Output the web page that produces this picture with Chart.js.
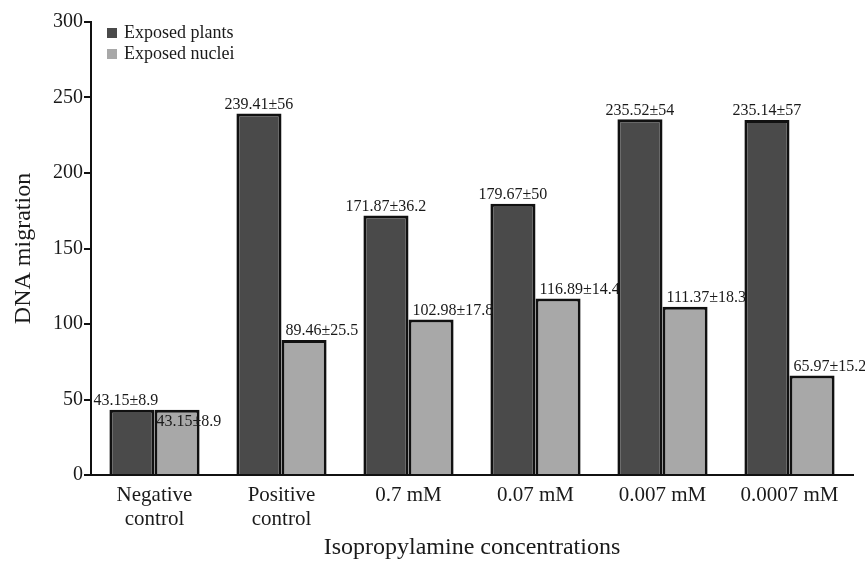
<!DOCTYPE html>
<html>
<head>
<meta charset="utf-8">
<script src="https://cdn.jsdelivr.net/npm/chart.js@4.4.1/dist/chart.umd.min.js"></script>
<style>
  html, body { margin: 0; padding: 0; background: #fff; }
  #wrap { width: 865px; height: 569px; }
</style>
</head>
<body>
<div id="wrap"><canvas id="dnaChart" width="865" height="569"></canvas></div>
<script>
// data
const categories = [['Negative', 'control'], ['Positive', 'control'], '0.7 mM', '0.07 mM', '0.007 mM', '0.0007 mM'];
const plantsValues = [43.15, 239.41, 171.87, 179.67, 235.52, 235.14];
const plantsErrors = ['8.9', '56', '36.2', '50', '54', '57'];
const nucleiValues = [43.15, 89.46, 102.98, 116.89, 111.37, 65.97];
const nucleiErrors = ['8.9', '25.5', '17.8', '14.4', '18.3', '15.2'];
const yTicks = [0, 50, 100, 150, 200, 250, 300];

const serif = "'Liberation Serif', 'DejaVu Serif', serif";
const textColor = '#1a1a1a';
const darkGray = '#4a4a4a';
const lightGray = '#a8a8a8';

//Draw the value±error labels over the bars
const barLabels = {
    id: 'barLabels',
    afterDatasetsDraw(chart) {
        const ctx = chart.ctx;
        ctx.save();
        ctx.font = '16px ' + serif;
        ctx.fillStyle = textColor;
        chart.data.datasets.forEach((ds, di) => {
            const meta = chart.getDatasetMeta(di);
            meta.data.forEach((bar, i) => {
                const txt = ds.data[i] + '±' + ds.errors[i];
                if (di === 0) {
                    ctx.textAlign = 'center';
                    ctx.textBaseline = 'bottom';
                    ctx.fillText(txt, bar.x - (i === 0 ? 6 : 0), bar.y - 1);
                } else if (i === 0) {
                    // first one sits inside the bar in the original
                    ctx.textAlign = 'left';
                    ctx.textBaseline = 'middle';
                    ctx.fillText(txt, bar.x - bar.width / 2 + 2, bar.y + 12);
                } else {
                    ctx.textAlign = 'left';
                    ctx.textBaseline = 'bottom';
                    ctx.fillText(txt, bar.x - bar.width / 2 + 4, bar.y - 1);
                }
            });
        });
        ctx.restore();
    }
};

//Legend in the top left corner of the plot
const cornerLegend = {
    id: 'cornerLegend',
    afterDraw(chart) {
        const ctx = chart.ctx;
        const area = chart.chartArea;
        ctx.save();
        ctx.font = '18px ' + serif;
        ctx.textBaseline = 'middle';
        ctx.textAlign = 'left';
        chart.data.datasets.forEach((ds, i) => {
            const y = area.top + 11 + i * 21;
            ctx.fillStyle = ds.backgroundColor;
            ctx.fillRect(area.left + 16, y - 5, 10, 10);
            ctx.fillStyle = textColor;
            ctx.fillText(ds.label, area.left + 33, y);
        });
        ctx.restore();
    }
};

const ctx = document.getElementById('dnaChart');

new Chart(ctx, {
    type: 'bar',
    data: {
        labels: categories,
        datasets: [
            {
                label: 'Exposed plants',
                data: plantsValues,
                errors: plantsErrors,
                backgroundColor: darkGray,
                borderColor: '#111',
                borderWidth: 3,
                categoryPercentage: 0.71,
                barPercentage: 1
            },
            {
                label: 'Exposed nuclei',
                data: nucleiValues,
                errors: nucleiErrors,
                backgroundColor: lightGray,
                borderColor: '#111',
                borderWidth: 3,
                categoryPercentage: 0.71,
                barPercentage: 1
            }
        ]
    },
    options: {
        responsive: false,
        animation: false,
        devicePixelRatio: 1,
        layout: {
            padding: { left: 0, right: 12, top: 22, bottom: 0 }
        },
        plugins: {
            legend: { display: false },
            tooltip: { enabled: false }
        },
        scales: {
            x: {
                grid: { display: false },
                border: { display: true, color: '#111', width: 2 },
                ticks: {
                    color: textColor,
                    font: { family: serif, size: 21, lineHeight: 1.15 },
                    padding: 0,
                    maxRotation: 0,
                    autoSkip: false
                },
                title: {
                    display: true,
                    text: 'Isopropylamine concentrations',
                    color: textColor,
                    font: { family: serif, size: 24 },
                    padding: { top: 0, bottom: 7 }
                },
                afterFit: (scale) => { scale.height = 94; }
            },
            y: {
                min: 0,
                max: 300,
                afterBuildTicks: (scale) => { scale.ticks = yTicks.map(v => ({ value: v })); },
                grid: {
                    display: true,
                    drawOnChartArea: false,
                    drawTicks: true,
                    tickLength: 7,
                    color: '#111',
                    lineWidth: 2
                },
                border: { display: true, color: '#111', width: 2 },
                ticks: {
                    color: textColor,
                    font: { family: serif, size: 20 },
                    padding: 1
                },
                title: {
                    display: true,
                    text: 'DNA migration',
                    color: textColor,
                    font: { family: serif, size: 24 },
                    padding: { top: 9, bottom: 0 }
                },
                afterFit: (scale) => { scale.width = 91; }
            }
        }
    },
    plugins: [barLabels, cornerLegend]
});
</script>
</body>
</html>
